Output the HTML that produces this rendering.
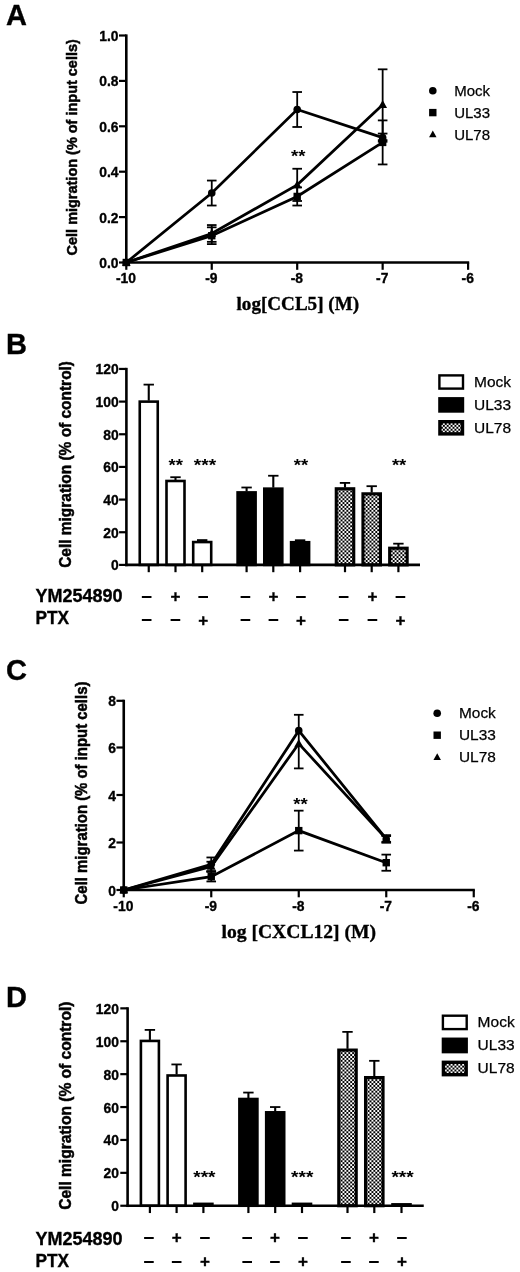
<!DOCTYPE html>
<html lang="en"><head><meta charset="utf-8"><title>Figure</title>
<style>html,body{margin:0;padding:0;background:#fff}svg{display:block}</style>
</head><body>
<svg width="520" height="1272" viewBox="0 0 520 1272">
<defs><pattern id="chk" x="0.9" y="0.3" width="3.86" height="3.86" patternUnits="userSpaceOnUse"><rect width="3.86" height="3.86" fill="#000"/><rect x="0" y="0" width="1.93" height="1.93" fill="#fff"/><rect x="1.93" y="1.93" width="1.93" height="1.93" fill="#fff"/></pattern></defs>
<rect width="520" height="1272" fill="#fff"/>
<g style="filter:blur(0.45px)">
<g id="panelA">
<polyline points="126.3,262.5 211.75,193.04 297.2,109.5 382.65,137.65" fill="none" stroke="#000" stroke-width="2.75" stroke-linejoin="miter"/>
<polyline points="126.3,262.5 211.75,235.71 297.2,196.44 382.65,142.42" fill="none" stroke="#000" stroke-width="2.75" stroke-linejoin="miter"/>
<polyline points="126.3,262.5 211.75,233.44 297.2,184.87 382.65,104.74" fill="none" stroke="#000" stroke-width="2.75" stroke-linejoin="miter"/>
<line x1="211.75" y1="180.55" x2="211.75" y2="205.52" stroke="#000" stroke-width="1.8"/>
<line x1="206.95" y1="180.55" x2="216.55" y2="180.55" stroke="#000" stroke-width="1.8"/>
<line x1="206.95" y1="205.52" x2="216.55" y2="205.52" stroke="#000" stroke-width="1.8"/>
<line x1="297.2" y1="92.02" x2="297.2" y2="126.98" stroke="#000" stroke-width="1.8"/>
<line x1="292.4" y1="92.02" x2="302" y2="92.02" stroke="#000" stroke-width="1.8"/>
<line x1="292.4" y1="126.98" x2="302" y2="126.98" stroke="#000" stroke-width="1.8"/>
<line x1="382.65" y1="133.56" x2="382.65" y2="141.74" stroke="#000" stroke-width="1.8"/>
<line x1="377.85" y1="133.56" x2="387.45" y2="133.56" stroke="#000" stroke-width="1.8"/>
<line x1="377.85" y1="141.74" x2="387.45" y2="141.74" stroke="#000" stroke-width="1.8"/>
<line x1="211.75" y1="227.31" x2="211.75" y2="244.11" stroke="#000" stroke-width="1.8"/>
<line x1="206.95" y1="227.31" x2="216.55" y2="227.31" stroke="#000" stroke-width="1.8"/>
<line x1="206.95" y1="244.11" x2="216.55" y2="244.11" stroke="#000" stroke-width="1.8"/>
<line x1="297.2" y1="187.36" x2="297.2" y2="205.52" stroke="#000" stroke-width="1.8"/>
<line x1="292.4" y1="187.36" x2="302" y2="187.36" stroke="#000" stroke-width="1.8"/>
<line x1="292.4" y1="205.52" x2="302" y2="205.52" stroke="#000" stroke-width="1.8"/>
<line x1="382.65" y1="120.4" x2="382.65" y2="164.44" stroke="#000" stroke-width="1.8"/>
<line x1="377.85" y1="120.4" x2="387.45" y2="120.4" stroke="#000" stroke-width="1.8"/>
<line x1="377.85" y1="164.44" x2="387.45" y2="164.44" stroke="#000" stroke-width="1.8"/>
<line x1="211.75" y1="225.05" x2="211.75" y2="241.84" stroke="#000" stroke-width="1.8"/>
<line x1="206.95" y1="225.05" x2="216.55" y2="225.05" stroke="#000" stroke-width="1.8"/>
<line x1="206.95" y1="241.84" x2="216.55" y2="241.84" stroke="#000" stroke-width="1.8"/>
<line x1="297.2" y1="168.75" x2="297.2" y2="200.98" stroke="#000" stroke-width="1.8"/>
<line x1="292.4" y1="168.75" x2="302" y2="168.75" stroke="#000" stroke-width="1.8"/>
<line x1="292.4" y1="200.98" x2="302" y2="200.98" stroke="#000" stroke-width="1.8"/>
<line x1="382.65" y1="69.32" x2="382.65" y2="140.15" stroke="#000" stroke-width="1.8"/>
<line x1="377.85" y1="69.32" x2="387.45" y2="69.32" stroke="#000" stroke-width="1.8"/>
<line x1="377.85" y1="140.15" x2="387.45" y2="140.15" stroke="#000" stroke-width="1.8"/>
<circle cx="126.3" cy="262.5" r="3.8" fill="#000"/>
<circle cx="211.75" cy="193.04" r="3.8" fill="#000"/>
<circle cx="297.2" cy="109.5" r="3.8" fill="#000"/>
<circle cx="382.65" cy="137.65" r="3.8" fill="#000"/>
<rect x="122.6" y="258.8" width="7.4" height="7.4" fill="#000"/>
<rect x="208.05" y="232.01" width="7.4" height="7.4" fill="#000"/>
<rect x="293.5" y="192.74" width="7.4" height="7.4" fill="#000"/>
<rect x="378.95" y="138.72" width="7.4" height="7.4" fill="#000"/>
<polygon points="126.3,257.88 121.9,265.8 130.7,265.8" fill="#000"/>
<polygon points="211.75,228.82 207.35,236.74 216.15,236.74" fill="#000"/>
<polygon points="297.2,180.25 292.8,188.17 301.6,188.17" fill="#000"/>
<polygon points="382.65,100.12 378.25,108.04 387.05,108.04" fill="#000"/>
<line x1="126.3" y1="34.4" x2="126.3" y2="263.8" stroke="#000" stroke-width="2.6"/>
<line x1="125" y1="262.5" x2="469.2" y2="262.5" stroke="#000" stroke-width="2.6"/>
<line x1="119" y1="262.5" x2="126.3" y2="262.5" stroke="#000" stroke-width="2.2"/>
<text x="118.6" y="268" font-family='"Liberation Sans", Arial, Helvetica, sans-serif' font-size="14.6" font-weight="bold" text-anchor="end" textLength="19.28" lengthAdjust="spacingAndGlyphs" stroke="#000" stroke-width="0.35">0.0</text>
<line x1="119" y1="217.1" x2="126.3" y2="217.1" stroke="#000" stroke-width="2.2"/>
<text x="118.6" y="222.6" font-family='"Liberation Sans", Arial, Helvetica, sans-serif' font-size="14.6" font-weight="bold" text-anchor="end" textLength="19.28" lengthAdjust="spacingAndGlyphs" stroke="#000" stroke-width="0.35">0.2</text>
<line x1="119" y1="171.7" x2="126.3" y2="171.7" stroke="#000" stroke-width="2.2"/>
<text x="118.6" y="177.2" font-family='"Liberation Sans", Arial, Helvetica, sans-serif' font-size="14.6" font-weight="bold" text-anchor="end" textLength="19.28" lengthAdjust="spacingAndGlyphs" stroke="#000" stroke-width="0.35">0.4</text>
<line x1="119" y1="126.3" x2="126.3" y2="126.3" stroke="#000" stroke-width="2.2"/>
<text x="118.6" y="131.8" font-family='"Liberation Sans", Arial, Helvetica, sans-serif' font-size="14.6" font-weight="bold" text-anchor="end" textLength="19.28" lengthAdjust="spacingAndGlyphs" stroke="#000" stroke-width="0.35">0.6</text>
<line x1="119" y1="80.9" x2="126.3" y2="80.9" stroke="#000" stroke-width="2.2"/>
<text x="118.6" y="86.4" font-family='"Liberation Sans", Arial, Helvetica, sans-serif' font-size="14.6" font-weight="bold" text-anchor="end" textLength="19.28" lengthAdjust="spacingAndGlyphs" stroke="#000" stroke-width="0.35">0.8</text>
<line x1="119" y1="35.5" x2="126.3" y2="35.5" stroke="#000" stroke-width="2.2"/>
<text x="118.6" y="41" font-family='"Liberation Sans", Arial, Helvetica, sans-serif' font-size="14.6" font-weight="bold" text-anchor="end" textLength="19.28" lengthAdjust="spacingAndGlyphs" stroke="#000" stroke-width="0.35">1.0</text>
<line x1="126.3" y1="262.5" x2="126.3" y2="269.8" stroke="#000" stroke-width="2.2"/>
<text x="125.9" y="283.2" font-family='"Liberation Sans", Arial, Helvetica, sans-serif' font-size="14.6" font-weight="bold" text-anchor="middle" textLength="20.05" lengthAdjust="spacingAndGlyphs" stroke="#000" stroke-width="0.35">-10</text>
<line x1="211.75" y1="262.5" x2="211.75" y2="269.8" stroke="#000" stroke-width="2.2"/>
<text x="211.35" y="283.2" font-family='"Liberation Sans", Arial, Helvetica, sans-serif' font-size="14.6" font-weight="bold" text-anchor="middle" textLength="12.33" lengthAdjust="spacingAndGlyphs" stroke="#000" stroke-width="0.35">-9</text>
<line x1="297.2" y1="262.5" x2="297.2" y2="269.8" stroke="#000" stroke-width="2.2"/>
<text x="296.8" y="283.2" font-family='"Liberation Sans", Arial, Helvetica, sans-serif' font-size="14.6" font-weight="bold" text-anchor="middle" textLength="12.33" lengthAdjust="spacingAndGlyphs" stroke="#000" stroke-width="0.35">-8</text>
<line x1="382.65" y1="262.5" x2="382.65" y2="269.8" stroke="#000" stroke-width="2.2"/>
<text x="382.25" y="283.2" font-family='"Liberation Sans", Arial, Helvetica, sans-serif' font-size="14.6" font-weight="bold" text-anchor="middle" textLength="12.33" lengthAdjust="spacingAndGlyphs" stroke="#000" stroke-width="0.35">-7</text>
<line x1="468.1" y1="262.5" x2="468.1" y2="269.8" stroke="#000" stroke-width="2.2"/>
<text x="467.7" y="283.2" font-family='"Liberation Sans", Arial, Helvetica, sans-serif' font-size="14.6" font-weight="bold" text-anchor="middle" textLength="12.33" lengthAdjust="spacingAndGlyphs" stroke="#000" stroke-width="0.35">-6</text>
<text transform="translate(77.2 147.3) rotate(-90)" font-family='"Liberation Sans", Arial, Helvetica, sans-serif' font-size="15.3" font-weight="bold" text-anchor="middle" stroke="#000" stroke-width="0.5" textLength="216.2" lengthAdjust="spacingAndGlyphs">Cell migration (% of input cells)</text>
<text x="297.8" y="310.2" font-family='"Liberation Serif", "Times New Roman", Times, serif' font-size="19" font-weight="bold" text-anchor="middle" textLength="122.5" lengthAdjust="spacingAndGlyphs" stroke="#000" stroke-width="0.35">log[CCL5] (M)</text>
<text x="298.3" y="161.8" font-family='"Liberation Sans", Arial, Helvetica, sans-serif' font-size="16" font-weight="bold" text-anchor="middle" textLength="14.4" lengthAdjust="spacingAndGlyphs">**</text>
<circle cx="432.8" cy="90.8" r="3.8" fill="#000"/>
<text x="454.2" y="96.2" font-family='"Liberation Sans", Arial, Helvetica, sans-serif' font-size="15" font-weight="normal" text-anchor="start" stroke="#000" stroke-width="0.25">Mock</text>
<rect x="429.1" y="108.9" width="7.4" height="7.4" fill="#000"/>
<text x="454.2" y="118" font-family='"Liberation Sans", Arial, Helvetica, sans-serif' font-size="15" font-weight="normal" text-anchor="start" stroke="#000" stroke-width="0.25">UL33</text>
<polygon points="432.8,130.47 429.06,137.21 436.54,137.21" fill="#000"/>
<text x="454.2" y="139.8" font-family='"Liberation Sans", Arial, Helvetica, sans-serif' font-size="15" font-weight="normal" text-anchor="start" stroke="#000" stroke-width="0.25">UL78</text>
<text x="6" y="25.2" font-family='"Liberation Sans", Arial, Helvetica, sans-serif' font-size="29" font-weight="bold" text-anchor="start" stroke="#000" stroke-width="0.35">A</text>
</g>
<g id="panelB">
<line x1="148.75" y1="384.62" x2="148.75" y2="400.62" stroke="#000" stroke-width="2.1"/>
<line x1="143.55" y1="384.62" x2="153.95" y2="384.62" stroke="#000" stroke-width="1.8"/>
<rect x="139.75" y="401.62" width="18" height="163.28" fill="#fff" stroke="#000" stroke-width="2.6"/>
<line x1="175.5" y1="477.21" x2="175.5" y2="479.98" stroke="#000" stroke-width="2.1"/>
<line x1="170.3" y1="477.21" x2="180.7" y2="477.21" stroke="#000" stroke-width="1.8"/>
<rect x="166.5" y="480.98" width="18" height="83.92" fill="#fff" stroke="#000" stroke-width="2.6"/>
<line x1="202.2" y1="540.08" x2="202.2" y2="541.06" stroke="#000" stroke-width="2.1"/>
<line x1="197" y1="540.08" x2="207.4" y2="540.08" stroke="#000" stroke-width="1.8"/>
<rect x="193.2" y="542.06" width="18" height="22.84" fill="#fff" stroke="#000" stroke-width="2.6"/>
<line x1="246.6" y1="487.5" x2="246.6" y2="491.41" stroke="#000" stroke-width="2.1"/>
<line x1="241.4" y1="487.5" x2="251.8" y2="487.5" stroke="#000" stroke-width="1.8"/>
<rect x="237.6" y="492.41" width="18" height="72.49" fill="#000" stroke="#000" stroke-width="2.6"/>
<line x1="273.3" y1="475.74" x2="273.3" y2="487.66" stroke="#000" stroke-width="2.1"/>
<line x1="268.1" y1="475.74" x2="278.5" y2="475.74" stroke="#000" stroke-width="1.8"/>
<rect x="264.3" y="488.66" width="18" height="76.24" fill="#000" stroke="#000" stroke-width="2.6"/>
<line x1="300.1" y1="540.24" x2="300.1" y2="541.22" stroke="#000" stroke-width="2.1"/>
<line x1="294.9" y1="540.24" x2="305.3" y2="540.24" stroke="#000" stroke-width="1.8"/>
<rect x="291.1" y="542.22" width="18" height="22.68" fill="#000" stroke="#000" stroke-width="2.6"/>
<line x1="345" y1="482.92" x2="345" y2="487.5" stroke="#000" stroke-width="2.1"/>
<line x1="339.8" y1="482.92" x2="350.2" y2="482.92" stroke="#000" stroke-width="1.8"/>
<rect x="336.25" y="488.75" width="17.5" height="76.15" fill="url(#chk)" stroke="#000" stroke-width="3.1"/>
<line x1="371.7" y1="486.19" x2="371.7" y2="492.56" stroke="#000" stroke-width="2.1"/>
<line x1="366.5" y1="486.19" x2="376.9" y2="486.19" stroke="#000" stroke-width="1.8"/>
<rect x="362.95" y="493.81" width="17.5" height="71.09" fill="url(#chk)" stroke="#000" stroke-width="3.1"/>
<line x1="398.4" y1="543.67" x2="398.4" y2="546.94" stroke="#000" stroke-width="2.1"/>
<line x1="393.2" y1="543.67" x2="403.6" y2="543.67" stroke="#000" stroke-width="1.8"/>
<rect x="389.65" y="548.19" width="17.5" height="16.71" fill="url(#chk)" stroke="#000" stroke-width="3.1"/>
<line x1="126.4" y1="367.84" x2="126.4" y2="566.2" stroke="#000" stroke-width="2.6"/>
<line x1="125.1" y1="564.9" x2="420" y2="564.9" stroke="#000" stroke-width="2.6"/>
<line x1="119.1" y1="564.9" x2="126.4" y2="564.9" stroke="#000" stroke-width="2.2"/>
<text x="118.7" y="570.4" font-family='"Liberation Sans", Arial, Helvetica, sans-serif' font-size="14.6" font-weight="bold" text-anchor="end" textLength="7.71" lengthAdjust="spacingAndGlyphs" stroke="#000" stroke-width="0.35">0</text>
<line x1="119.1" y1="532.24" x2="126.4" y2="532.24" stroke="#000" stroke-width="2.2"/>
<text x="118.7" y="537.74" font-family='"Liberation Sans", Arial, Helvetica, sans-serif' font-size="14.6" font-weight="bold" text-anchor="end" textLength="15.43" lengthAdjust="spacingAndGlyphs" stroke="#000" stroke-width="0.35">20</text>
<line x1="119.1" y1="499.58" x2="126.4" y2="499.58" stroke="#000" stroke-width="2.2"/>
<text x="118.7" y="505.08" font-family='"Liberation Sans", Arial, Helvetica, sans-serif' font-size="14.6" font-weight="bold" text-anchor="end" textLength="15.43" lengthAdjust="spacingAndGlyphs" stroke="#000" stroke-width="0.35">40</text>
<line x1="119.1" y1="466.92" x2="126.4" y2="466.92" stroke="#000" stroke-width="2.2"/>
<text x="118.7" y="472.42" font-family='"Liberation Sans", Arial, Helvetica, sans-serif' font-size="14.6" font-weight="bold" text-anchor="end" textLength="15.43" lengthAdjust="spacingAndGlyphs" stroke="#000" stroke-width="0.35">60</text>
<line x1="119.1" y1="434.26" x2="126.4" y2="434.26" stroke="#000" stroke-width="2.2"/>
<text x="118.7" y="439.76" font-family='"Liberation Sans", Arial, Helvetica, sans-serif' font-size="14.6" font-weight="bold" text-anchor="end" textLength="15.43" lengthAdjust="spacingAndGlyphs" stroke="#000" stroke-width="0.35">80</text>
<line x1="119.1" y1="401.6" x2="126.4" y2="401.6" stroke="#000" stroke-width="2.2"/>
<text x="118.7" y="407.1" font-family='"Liberation Sans", Arial, Helvetica, sans-serif' font-size="14.6" font-weight="bold" text-anchor="end" textLength="23.14" lengthAdjust="spacingAndGlyphs" stroke="#000" stroke-width="0.35">100</text>
<line x1="119.1" y1="368.94" x2="126.4" y2="368.94" stroke="#000" stroke-width="2.2"/>
<text x="118.7" y="374.44" font-family='"Liberation Sans", Arial, Helvetica, sans-serif' font-size="14.6" font-weight="bold" text-anchor="end" textLength="23.14" lengthAdjust="spacingAndGlyphs" stroke="#000" stroke-width="0.35">120</text>
<line x1="148.75" y1="564.9" x2="148.75" y2="572.2" stroke="#000" stroke-width="2.2"/>
<line x1="175.5" y1="564.9" x2="175.5" y2="572.2" stroke="#000" stroke-width="2.2"/>
<line x1="202.2" y1="564.9" x2="202.2" y2="572.2" stroke="#000" stroke-width="2.2"/>
<line x1="246.6" y1="564.9" x2="246.6" y2="572.2" stroke="#000" stroke-width="2.2"/>
<line x1="273.3" y1="564.9" x2="273.3" y2="572.2" stroke="#000" stroke-width="2.2"/>
<line x1="300.1" y1="564.9" x2="300.1" y2="572.2" stroke="#000" stroke-width="2.2"/>
<line x1="345" y1="564.9" x2="345" y2="572.2" stroke="#000" stroke-width="2.2"/>
<line x1="371.7" y1="564.9" x2="371.7" y2="572.2" stroke="#000" stroke-width="2.2"/>
<line x1="398.4" y1="564.9" x2="398.4" y2="572.2" stroke="#000" stroke-width="2.2"/>
<text transform="translate(70.9 464.4) rotate(-90)" font-family='"Liberation Sans", Arial, Helvetica, sans-serif' font-size="15.9" font-weight="bold" text-anchor="middle" stroke="#000" stroke-width="0.5" textLength="206.8" lengthAdjust="spacingAndGlyphs">Cell migration (% of control)</text>
<text x="175.8" y="470.8" font-family='"Liberation Sans", Arial, Helvetica, sans-serif' font-size="16" font-weight="bold" text-anchor="middle" textLength="14.4" lengthAdjust="spacingAndGlyphs">**</text>
<text x="205" y="470.8" font-family='"Liberation Sans", Arial, Helvetica, sans-serif' font-size="16" font-weight="bold" text-anchor="middle" textLength="22.3" lengthAdjust="spacingAndGlyphs">***</text>
<text x="300.9" y="470.8" font-family='"Liberation Sans", Arial, Helvetica, sans-serif' font-size="16" font-weight="bold" text-anchor="middle" textLength="14.4" lengthAdjust="spacingAndGlyphs">**</text>
<text x="399.1" y="470.8" font-family='"Liberation Sans", Arial, Helvetica, sans-serif' font-size="16" font-weight="bold" text-anchor="middle" textLength="14.4" lengthAdjust="spacingAndGlyphs">**</text>
<rect x="439.4" y="375.4" width="23.6" height="13.2" fill="#fff" stroke="#000" stroke-width="2.4"/>
<text x="474" y="387.4" font-family='"Liberation Sans", Arial, Helvetica, sans-serif' font-size="15.5" font-weight="normal" text-anchor="start" stroke="#000" stroke-width="0.25">Mock</text>
<rect x="439.4" y="398.3" width="23.6" height="13.2" fill="#000" stroke="#000" stroke-width="2.4"/>
<text x="474" y="410.3" font-family='"Liberation Sans", Arial, Helvetica, sans-serif' font-size="15.5" font-weight="normal" text-anchor="start" stroke="#000" stroke-width="0.25">UL33</text>
<rect x="439.9" y="421.7" width="22.6" height="12.2" fill="url(#chk)" stroke="#000" stroke-width="3.4"/>
<text x="474" y="433.2" font-family='"Liberation Sans", Arial, Helvetica, sans-serif' font-size="15.5" font-weight="normal" text-anchor="start" stroke="#000" stroke-width="0.25">UL78</text>
<text x="35.5" y="602" font-family='"Liberation Sans", Arial, Helvetica, sans-serif' font-size="17.6" font-weight="bold" text-anchor="start" textLength="87" lengthAdjust="spacingAndGlyphs" stroke="#000" stroke-width="0.35">YM254890</text>
<text x="35.5" y="624.2" font-family='"Liberation Sans", Arial, Helvetica, sans-serif' font-size="17.6" font-weight="bold" text-anchor="start" textLength="33.6" lengthAdjust="spacingAndGlyphs" stroke="#000" stroke-width="0.35">PTX</text>
<text x="146.7" y="601.9" font-family='"Liberation Sans", Arial, Helvetica, sans-serif' font-size="19.5" font-weight="bold" text-anchor="middle">–</text>
<text x="146.7" y="625.3" font-family='"Liberation Sans", Arial, Helvetica, sans-serif' font-size="19.5" font-weight="bold" text-anchor="middle">–</text>
<text x="175.4" y="601.8" font-family='"Liberation Sans", Arial, Helvetica, sans-serif' font-size="17" font-weight="bold" text-anchor="middle" stroke="#000" stroke-width="0.35">+</text>
<text x="175.4" y="625.3" font-family='"Liberation Sans", Arial, Helvetica, sans-serif' font-size="19.5" font-weight="bold" text-anchor="middle">–</text>
<text x="203.2" y="601.9" font-family='"Liberation Sans", Arial, Helvetica, sans-serif' font-size="19.5" font-weight="bold" text-anchor="middle">–</text>
<text x="203.2" y="626.2" font-family='"Liberation Sans", Arial, Helvetica, sans-serif' font-size="17" font-weight="bold" text-anchor="middle" stroke="#000" stroke-width="0.35">+</text>
<text x="245.4" y="601.9" font-family='"Liberation Sans", Arial, Helvetica, sans-serif' font-size="19.5" font-weight="bold" text-anchor="middle">–</text>
<text x="245.4" y="625.3" font-family='"Liberation Sans", Arial, Helvetica, sans-serif' font-size="19.5" font-weight="bold" text-anchor="middle">–</text>
<text x="273.5" y="601.8" font-family='"Liberation Sans", Arial, Helvetica, sans-serif' font-size="17" font-weight="bold" text-anchor="middle" stroke="#000" stroke-width="0.35">+</text>
<text x="273.5" y="625.3" font-family='"Liberation Sans", Arial, Helvetica, sans-serif' font-size="19.5" font-weight="bold" text-anchor="middle">–</text>
<text x="301" y="601.9" font-family='"Liberation Sans", Arial, Helvetica, sans-serif' font-size="19.5" font-weight="bold" text-anchor="middle">–</text>
<text x="301" y="626.2" font-family='"Liberation Sans", Arial, Helvetica, sans-serif' font-size="17" font-weight="bold" text-anchor="middle" stroke="#000" stroke-width="0.35">+</text>
<text x="343.7" y="601.9" font-family='"Liberation Sans", Arial, Helvetica, sans-serif' font-size="19.5" font-weight="bold" text-anchor="middle">–</text>
<text x="343.7" y="625.3" font-family='"Liberation Sans", Arial, Helvetica, sans-serif' font-size="19.5" font-weight="bold" text-anchor="middle">–</text>
<text x="372.5" y="601.8" font-family='"Liberation Sans", Arial, Helvetica, sans-serif' font-size="17" font-weight="bold" text-anchor="middle" stroke="#000" stroke-width="0.35">+</text>
<text x="372.5" y="625.3" font-family='"Liberation Sans", Arial, Helvetica, sans-serif' font-size="19.5" font-weight="bold" text-anchor="middle">–</text>
<text x="400.4" y="601.9" font-family='"Liberation Sans", Arial, Helvetica, sans-serif' font-size="19.5" font-weight="bold" text-anchor="middle">–</text>
<text x="400.4" y="626.2" font-family='"Liberation Sans", Arial, Helvetica, sans-serif' font-size="17" font-weight="bold" text-anchor="middle" stroke="#000" stroke-width="0.35">+</text>
<text x="6" y="354.4" font-family='"Liberation Sans", Arial, Helvetica, sans-serif' font-size="29" font-weight="bold" text-anchor="start" stroke="#000" stroke-width="0.35">B</text>
</g>
<g id="panelC">
<polyline points="123.75,890 211.25,864.35 298.75,730.64 386.25,838.94" fill="none" stroke="#000" stroke-width="2.75" stroke-linejoin="miter"/>
<polyline points="123.75,890 211.25,876.7 298.75,830.62 386.25,862.69" fill="none" stroke="#000" stroke-width="2.75" stroke-linejoin="miter"/>
<polyline points="123.75,890 211.25,866.49 298.75,743.61 386.25,838.94" fill="none" stroke="#000" stroke-width="2.75" stroke-linejoin="miter"/>
<line x1="211.25" y1="857.46" x2="211.25" y2="871.24" stroke="#000" stroke-width="1.8"/>
<line x1="206.45" y1="857.46" x2="216.05" y2="857.46" stroke="#000" stroke-width="1.8"/>
<line x1="206.45" y1="871.24" x2="216.05" y2="871.24" stroke="#000" stroke-width="1.8"/>
<line x1="386.25" y1="835.14" x2="386.25" y2="842.74" stroke="#000" stroke-width="1.8"/>
<line x1="381.45" y1="835.14" x2="391.05" y2="835.14" stroke="#000" stroke-width="1.8"/>
<line x1="381.45" y1="842.74" x2="391.05" y2="842.74" stroke="#000" stroke-width="1.8"/>
<line x1="211.25" y1="871.95" x2="211.25" y2="881.45" stroke="#000" stroke-width="1.8"/>
<line x1="206.45" y1="871.95" x2="216.05" y2="871.95" stroke="#000" stroke-width="1.8"/>
<line x1="206.45" y1="881.45" x2="216.05" y2="881.45" stroke="#000" stroke-width="1.8"/>
<line x1="298.75" y1="810.67" x2="298.75" y2="850.58" stroke="#000" stroke-width="1.8"/>
<line x1="293.95" y1="810.67" x2="303.55" y2="810.67" stroke="#000" stroke-width="1.8"/>
<line x1="293.95" y1="850.58" x2="303.55" y2="850.58" stroke="#000" stroke-width="1.8"/>
<line x1="386.25" y1="854.61" x2="386.25" y2="870.76" stroke="#000" stroke-width="1.8"/>
<line x1="381.45" y1="854.61" x2="391.05" y2="854.61" stroke="#000" stroke-width="1.8"/>
<line x1="381.45" y1="870.76" x2="391.05" y2="870.76" stroke="#000" stroke-width="1.8"/>
<line x1="211.25" y1="861.74" x2="211.25" y2="871.24" stroke="#000" stroke-width="1.8"/>
<line x1="206.45" y1="861.74" x2="216.05" y2="861.74" stroke="#000" stroke-width="1.8"/>
<line x1="206.45" y1="871.24" x2="216.05" y2="871.24" stroke="#000" stroke-width="1.8"/>
<line x1="298.75" y1="714.8" x2="298.75" y2="768.4" stroke="#000" stroke-width="1.8"/>
<line x1="293.95" y1="714.8" x2="303.55" y2="714.8" stroke="#000" stroke-width="1.8"/>
<line x1="293.95" y1="768.4" x2="303.55" y2="768.4" stroke="#000" stroke-width="1.8"/>
<line x1="386.25" y1="836.09" x2="386.25" y2="841.79" stroke="#000" stroke-width="1.8"/>
<line x1="381.45" y1="836.09" x2="391.05" y2="836.09" stroke="#000" stroke-width="1.8"/>
<line x1="381.45" y1="841.79" x2="391.05" y2="841.79" stroke="#000" stroke-width="1.8"/>
<circle cx="123.75" cy="890" r="3.8" fill="#000"/>
<circle cx="211.25" cy="864.35" r="3.8" fill="#000"/>
<circle cx="298.75" cy="730.64" r="3.8" fill="#000"/>
<circle cx="386.25" cy="838.94" r="3.8" fill="#000"/>
<rect x="120.05" y="886.3" width="7.4" height="7.4" fill="#000"/>
<rect x="207.55" y="873" width="7.4" height="7.4" fill="#000"/>
<rect x="295.05" y="826.92" width="7.4" height="7.4" fill="#000"/>
<rect x="382.55" y="858.99" width="7.4" height="7.4" fill="#000"/>
<polygon points="123.75,885.38 119.35,893.3 128.15,893.3" fill="#000"/>
<polygon points="211.25,861.87 206.85,869.79 215.65,869.79" fill="#000"/>
<polygon points="298.75,738.99 294.35,746.9 303.15,746.9" fill="#000"/>
<polygon points="386.25,834.32 381.85,842.24 390.65,842.24" fill="#000"/>
<line x1="123.75" y1="699.7" x2="123.75" y2="891.3" stroke="#000" stroke-width="2.6"/>
<line x1="122.45" y1="890" x2="474.85" y2="890" stroke="#000" stroke-width="2.6"/>
<line x1="116.45" y1="890" x2="123.75" y2="890" stroke="#000" stroke-width="2.2"/>
<text x="116.05" y="895.5" font-family='"Liberation Sans", Arial, Helvetica, sans-serif' font-size="14.6" font-weight="bold" text-anchor="end" textLength="7.71" lengthAdjust="spacingAndGlyphs" stroke="#000" stroke-width="0.35">0</text>
<line x1="116.45" y1="842.5" x2="123.75" y2="842.5" stroke="#000" stroke-width="2.2"/>
<text x="116.05" y="848" font-family='"Liberation Sans", Arial, Helvetica, sans-serif' font-size="14.6" font-weight="bold" text-anchor="end" textLength="7.71" lengthAdjust="spacingAndGlyphs" stroke="#000" stroke-width="0.35">2</text>
<line x1="116.45" y1="795" x2="123.75" y2="795" stroke="#000" stroke-width="2.2"/>
<text x="116.05" y="800.5" font-family='"Liberation Sans", Arial, Helvetica, sans-serif' font-size="14.6" font-weight="bold" text-anchor="end" textLength="7.71" lengthAdjust="spacingAndGlyphs" stroke="#000" stroke-width="0.35">4</text>
<line x1="116.45" y1="747.5" x2="123.75" y2="747.5" stroke="#000" stroke-width="2.2"/>
<text x="116.05" y="753" font-family='"Liberation Sans", Arial, Helvetica, sans-serif' font-size="14.6" font-weight="bold" text-anchor="end" textLength="7.71" lengthAdjust="spacingAndGlyphs" stroke="#000" stroke-width="0.35">6</text>
<line x1="116.45" y1="700.8" x2="123.75" y2="700.8" stroke="#000" stroke-width="2.2"/>
<text x="116.05" y="706.3" font-family='"Liberation Sans", Arial, Helvetica, sans-serif' font-size="14.6" font-weight="bold" text-anchor="end" textLength="7.71" lengthAdjust="spacingAndGlyphs" stroke="#000" stroke-width="0.35">8</text>
<line x1="123.75" y1="890" x2="123.75" y2="897.3" stroke="#000" stroke-width="2.2"/>
<text x="123.35" y="910.7" font-family='"Liberation Sans", Arial, Helvetica, sans-serif' font-size="14.6" font-weight="bold" text-anchor="middle" textLength="20.05" lengthAdjust="spacingAndGlyphs" stroke="#000" stroke-width="0.35">-10</text>
<line x1="211.25" y1="890" x2="211.25" y2="897.3" stroke="#000" stroke-width="2.2"/>
<text x="210.85" y="910.7" font-family='"Liberation Sans", Arial, Helvetica, sans-serif' font-size="14.6" font-weight="bold" text-anchor="middle" textLength="12.33" lengthAdjust="spacingAndGlyphs" stroke="#000" stroke-width="0.35">-9</text>
<line x1="298.75" y1="890" x2="298.75" y2="897.3" stroke="#000" stroke-width="2.2"/>
<text x="298.35" y="910.7" font-family='"Liberation Sans", Arial, Helvetica, sans-serif' font-size="14.6" font-weight="bold" text-anchor="middle" textLength="12.33" lengthAdjust="spacingAndGlyphs" stroke="#000" stroke-width="0.35">-8</text>
<line x1="386.25" y1="890" x2="386.25" y2="897.3" stroke="#000" stroke-width="2.2"/>
<text x="385.85" y="910.7" font-family='"Liberation Sans", Arial, Helvetica, sans-serif' font-size="14.6" font-weight="bold" text-anchor="middle" textLength="12.33" lengthAdjust="spacingAndGlyphs" stroke="#000" stroke-width="0.35">-7</text>
<line x1="473.75" y1="890" x2="473.75" y2="897.3" stroke="#000" stroke-width="2.2"/>
<text x="473.35" y="910.7" font-family='"Liberation Sans", Arial, Helvetica, sans-serif' font-size="14.6" font-weight="bold" text-anchor="middle" textLength="12.33" lengthAdjust="spacingAndGlyphs" stroke="#000" stroke-width="0.35">-6</text>
<text transform="translate(87 793) rotate(-90)" font-family='"Liberation Sans", Arial, Helvetica, sans-serif' font-size="15.9" font-weight="bold" text-anchor="middle" stroke="#000" stroke-width="0.5" textLength="222.8" lengthAdjust="spacingAndGlyphs">Cell migration (% of input cells)</text>
<text x="298.8" y="938.4" font-family='"Liberation Serif", "Times New Roman", Times, serif' font-size="19.5" font-weight="bold" text-anchor="middle" textLength="154.7" lengthAdjust="spacingAndGlyphs" stroke="#000" stroke-width="0.35">log [CXCL12] (M)</text>
<text x="300.5" y="809.5" font-family='"Liberation Sans", Arial, Helvetica, sans-serif' font-size="16" font-weight="bold" text-anchor="middle" textLength="14.4" lengthAdjust="spacingAndGlyphs">**</text>
<circle cx="437.2" cy="713.2" r="3.8" fill="#000"/>
<text x="459" y="718.3" font-family='"Liberation Sans", Arial, Helvetica, sans-serif' font-size="15.4" font-weight="normal" text-anchor="start" stroke="#000" stroke-width="0.25">Mock</text>
<rect x="433.5" y="731.5" width="7.4" height="7.4" fill="#000"/>
<text x="459" y="740.3" font-family='"Liberation Sans", Arial, Helvetica, sans-serif' font-size="15.4" font-weight="normal" text-anchor="start" stroke="#000" stroke-width="0.25">UL33</text>
<polygon points="437.2,753.27 433.46,760 440.94,760" fill="#000"/>
<text x="459" y="762.3" font-family='"Liberation Sans", Arial, Helvetica, sans-serif' font-size="15.4" font-weight="normal" text-anchor="start" stroke="#000" stroke-width="0.25">UL78</text>
<text x="6" y="680.2" font-family='"Liberation Sans", Arial, Helvetica, sans-serif' font-size="29" font-weight="bold" text-anchor="start" stroke="#000" stroke-width="0.35">C</text>
</g>
<g id="panelD">
<line x1="149.9" y1="1029.9" x2="149.9" y2="1039.93" stroke="#000" stroke-width="2.1"/>
<line x1="144.7" y1="1029.9" x2="155.1" y2="1029.9" stroke="#000" stroke-width="1.8"/>
<rect x="140.9" y="1040.93" width="18" height="164.82" fill="#fff" stroke="#000" stroke-width="2.6"/>
<line x1="176.6" y1="1064.44" x2="176.6" y2="1074.48" stroke="#000" stroke-width="2.1"/>
<line x1="171.4" y1="1064.44" x2="181.8" y2="1064.44" stroke="#000" stroke-width="1.8"/>
<rect x="167.6" y="1075.48" width="18" height="130.27" fill="#fff" stroke="#000" stroke-width="2.6"/>
<rect x="193.1" y="1202.58" width="20.6" height="3.17" fill="#000"/>
<line x1="248.4" y1="1092.57" x2="248.4" y2="1098" stroke="#000" stroke-width="2.1"/>
<line x1="243.2" y1="1092.57" x2="253.6" y2="1092.57" stroke="#000" stroke-width="1.8"/>
<rect x="239.4" y="1099" width="18" height="106.75" fill="#000" stroke="#000" stroke-width="2.6"/>
<line x1="275.2" y1="1107.05" x2="275.2" y2="1111.33" stroke="#000" stroke-width="2.1"/>
<line x1="270" y1="1107.05" x2="280.4" y2="1107.05" stroke="#000" stroke-width="1.8"/>
<rect x="266.2" y="1112.33" width="18" height="93.42" fill="#000" stroke="#000" stroke-width="2.6"/>
<rect x="291.7" y="1202.58" width="20.6" height="3.17" fill="#000"/>
<line x1="347.5" y1="1031.87" x2="347.5" y2="1048.82" stroke="#000" stroke-width="2.1"/>
<line x1="342.3" y1="1031.87" x2="352.7" y2="1031.87" stroke="#000" stroke-width="1.8"/>
<rect x="338.75" y="1050.07" width="17.5" height="155.68" fill="url(#chk)" stroke="#000" stroke-width="3.1"/>
<line x1="374.3" y1="1060.83" x2="374.3" y2="1076.29" stroke="#000" stroke-width="2.1"/>
<line x1="369.1" y1="1060.83" x2="379.5" y2="1060.83" stroke="#000" stroke-width="1.8"/>
<rect x="365.55" y="1077.54" width="17.5" height="128.21" fill="url(#chk)" stroke="#000" stroke-width="3.1"/>
<rect x="391.2" y="1203.07" width="20.6" height="2.68" fill="#000"/>
<line x1="127.6" y1="1007.25" x2="127.6" y2="1207.05" stroke="#000" stroke-width="2.6"/>
<line x1="126.3" y1="1205.75" x2="423.75" y2="1205.75" stroke="#000" stroke-width="2.6"/>
<line x1="120.3" y1="1205.75" x2="127.6" y2="1205.75" stroke="#000" stroke-width="2.2"/>
<text x="118.9" y="1211.25" font-family='"Liberation Sans", Arial, Helvetica, sans-serif' font-size="14.6" font-weight="bold" text-anchor="end" textLength="7.71" lengthAdjust="spacingAndGlyphs" stroke="#000" stroke-width="0.35">0</text>
<line x1="120.3" y1="1172.85" x2="127.6" y2="1172.85" stroke="#000" stroke-width="2.2"/>
<text x="118.9" y="1178.35" font-family='"Liberation Sans", Arial, Helvetica, sans-serif' font-size="14.6" font-weight="bold" text-anchor="end" textLength="15.43" lengthAdjust="spacingAndGlyphs" stroke="#000" stroke-width="0.35">20</text>
<line x1="120.3" y1="1139.95" x2="127.6" y2="1139.95" stroke="#000" stroke-width="2.2"/>
<text x="118.9" y="1145.45" font-family='"Liberation Sans", Arial, Helvetica, sans-serif' font-size="14.6" font-weight="bold" text-anchor="end" textLength="15.43" lengthAdjust="spacingAndGlyphs" stroke="#000" stroke-width="0.35">40</text>
<line x1="120.3" y1="1107.05" x2="127.6" y2="1107.05" stroke="#000" stroke-width="2.2"/>
<text x="118.9" y="1112.55" font-family='"Liberation Sans", Arial, Helvetica, sans-serif' font-size="14.6" font-weight="bold" text-anchor="end" textLength="15.43" lengthAdjust="spacingAndGlyphs" stroke="#000" stroke-width="0.35">60</text>
<line x1="120.3" y1="1074.15" x2="127.6" y2="1074.15" stroke="#000" stroke-width="2.2"/>
<text x="118.9" y="1079.65" font-family='"Liberation Sans", Arial, Helvetica, sans-serif' font-size="14.6" font-weight="bold" text-anchor="end" textLength="15.43" lengthAdjust="spacingAndGlyphs" stroke="#000" stroke-width="0.35">80</text>
<line x1="120.3" y1="1041.25" x2="127.6" y2="1041.25" stroke="#000" stroke-width="2.2"/>
<text x="118.9" y="1046.75" font-family='"Liberation Sans", Arial, Helvetica, sans-serif' font-size="14.6" font-weight="bold" text-anchor="end" textLength="23.14" lengthAdjust="spacingAndGlyphs" stroke="#000" stroke-width="0.35">100</text>
<line x1="120.3" y1="1008.35" x2="127.6" y2="1008.35" stroke="#000" stroke-width="2.2"/>
<text x="118.9" y="1013.85" font-family='"Liberation Sans", Arial, Helvetica, sans-serif' font-size="14.6" font-weight="bold" text-anchor="end" textLength="23.14" lengthAdjust="spacingAndGlyphs" stroke="#000" stroke-width="0.35">120</text>
<line x1="149.9" y1="1205.75" x2="149.9" y2="1213.05" stroke="#000" stroke-width="2.2"/>
<line x1="176.6" y1="1205.75" x2="176.6" y2="1213.05" stroke="#000" stroke-width="2.2"/>
<line x1="203.4" y1="1205.75" x2="203.4" y2="1213.05" stroke="#000" stroke-width="2.2"/>
<line x1="248.4" y1="1205.75" x2="248.4" y2="1213.05" stroke="#000" stroke-width="2.2"/>
<line x1="275.2" y1="1205.75" x2="275.2" y2="1213.05" stroke="#000" stroke-width="2.2"/>
<line x1="302" y1="1205.75" x2="302" y2="1213.05" stroke="#000" stroke-width="2.2"/>
<line x1="347.5" y1="1205.75" x2="347.5" y2="1213.05" stroke="#000" stroke-width="2.2"/>
<line x1="374.3" y1="1205.75" x2="374.3" y2="1213.05" stroke="#000" stroke-width="2.2"/>
<line x1="401.5" y1="1205.75" x2="401.5" y2="1213.05" stroke="#000" stroke-width="2.2"/>
<text transform="translate(70.9 1105.7) rotate(-90)" font-family='"Liberation Sans", Arial, Helvetica, sans-serif' font-size="15.9" font-weight="bold" text-anchor="middle" stroke="#000" stroke-width="0.5" textLength="208.2" lengthAdjust="spacingAndGlyphs">Cell migration (% of control)</text>
<text x="204.4" y="1183" font-family='"Liberation Sans", Arial, Helvetica, sans-serif' font-size="16" font-weight="bold" text-anchor="middle" textLength="22.3" lengthAdjust="spacingAndGlyphs">***</text>
<text x="302.2" y="1183" font-family='"Liberation Sans", Arial, Helvetica, sans-serif' font-size="16" font-weight="bold" text-anchor="middle" textLength="22.3" lengthAdjust="spacingAndGlyphs">***</text>
<text x="402.6" y="1183" font-family='"Liberation Sans", Arial, Helvetica, sans-serif' font-size="16" font-weight="bold" text-anchor="middle" textLength="22.3" lengthAdjust="spacingAndGlyphs">***</text>
<rect x="442.9" y="1015.7" width="23.8" height="13.4" fill="#fff" stroke="#000" stroke-width="2.4"/>
<text x="477.6" y="1027.3" font-family='"Liberation Sans", Arial, Helvetica, sans-serif' font-size="15.5" font-weight="normal" text-anchor="start" stroke="#000" stroke-width="0.25">Mock</text>
<rect x="442.9" y="1038.75" width="23.8" height="13.4" fill="#000" stroke="#000" stroke-width="2.4"/>
<text x="477.6" y="1050.35" font-family='"Liberation Sans", Arial, Helvetica, sans-serif' font-size="15.5" font-weight="normal" text-anchor="start" stroke="#000" stroke-width="0.25">UL33</text>
<rect x="443.4" y="1062.3" width="22.8" height="12.4" fill="url(#chk)" stroke="#000" stroke-width="3.4"/>
<text x="477.6" y="1073.4" font-family='"Liberation Sans", Arial, Helvetica, sans-serif' font-size="15.5" font-weight="normal" text-anchor="start" stroke="#000" stroke-width="0.25">UL78</text>
<text x="35.5" y="1244.5" font-family='"Liberation Sans", Arial, Helvetica, sans-serif' font-size="17.6" font-weight="bold" text-anchor="start" textLength="87" lengthAdjust="spacingAndGlyphs" stroke="#000" stroke-width="0.35">YM254890</text>
<text x="35.5" y="1267" font-family='"Liberation Sans", Arial, Helvetica, sans-serif' font-size="17.6" font-weight="bold" text-anchor="start" textLength="33.6" lengthAdjust="spacingAndGlyphs" stroke="#000" stroke-width="0.35">PTX</text>
<text x="149" y="1242.5" font-family='"Liberation Sans", Arial, Helvetica, sans-serif' font-size="19.5" font-weight="bold" text-anchor="middle">–</text>
<text x="149" y="1266.5" font-family='"Liberation Sans", Arial, Helvetica, sans-serif' font-size="19.5" font-weight="bold" text-anchor="middle">–</text>
<text x="176.6" y="1242.9" font-family='"Liberation Sans", Arial, Helvetica, sans-serif' font-size="17" font-weight="bold" text-anchor="middle" stroke="#000" stroke-width="0.35">+</text>
<text x="176.6" y="1266.5" font-family='"Liberation Sans", Arial, Helvetica, sans-serif' font-size="19.5" font-weight="bold" text-anchor="middle">–</text>
<text x="205" y="1242.5" font-family='"Liberation Sans", Arial, Helvetica, sans-serif' font-size="19.5" font-weight="bold" text-anchor="middle">–</text>
<text x="205" y="1267.4" font-family='"Liberation Sans", Arial, Helvetica, sans-serif' font-size="17" font-weight="bold" text-anchor="middle" stroke="#000" stroke-width="0.35">+</text>
<text x="247.1" y="1242.5" font-family='"Liberation Sans", Arial, Helvetica, sans-serif' font-size="19.5" font-weight="bold" text-anchor="middle">–</text>
<text x="247.1" y="1266.5" font-family='"Liberation Sans", Arial, Helvetica, sans-serif' font-size="19.5" font-weight="bold" text-anchor="middle">–</text>
<text x="275" y="1242.9" font-family='"Liberation Sans", Arial, Helvetica, sans-serif' font-size="17" font-weight="bold" text-anchor="middle" stroke="#000" stroke-width="0.35">+</text>
<text x="275" y="1266.5" font-family='"Liberation Sans", Arial, Helvetica, sans-serif' font-size="19.5" font-weight="bold" text-anchor="middle">–</text>
<text x="303" y="1242.5" font-family='"Liberation Sans", Arial, Helvetica, sans-serif' font-size="19.5" font-weight="bold" text-anchor="middle">–</text>
<text x="303" y="1267.4" font-family='"Liberation Sans", Arial, Helvetica, sans-serif' font-size="17" font-weight="bold" text-anchor="middle" stroke="#000" stroke-width="0.35">+</text>
<text x="346" y="1242.5" font-family='"Liberation Sans", Arial, Helvetica, sans-serif' font-size="19.5" font-weight="bold" text-anchor="middle">–</text>
<text x="346" y="1266.5" font-family='"Liberation Sans", Arial, Helvetica, sans-serif' font-size="19.5" font-weight="bold" text-anchor="middle">–</text>
<text x="374" y="1242.9" font-family='"Liberation Sans", Arial, Helvetica, sans-serif' font-size="17" font-weight="bold" text-anchor="middle" stroke="#000" stroke-width="0.35">+</text>
<text x="374" y="1266.5" font-family='"Liberation Sans", Arial, Helvetica, sans-serif' font-size="19.5" font-weight="bold" text-anchor="middle">–</text>
<text x="402" y="1242.5" font-family='"Liberation Sans", Arial, Helvetica, sans-serif' font-size="19.5" font-weight="bold" text-anchor="middle">–</text>
<text x="402" y="1267.4" font-family='"Liberation Sans", Arial, Helvetica, sans-serif' font-size="17" font-weight="bold" text-anchor="middle" stroke="#000" stroke-width="0.35">+</text>
<text x="6" y="1007.3" font-family='"Liberation Sans", Arial, Helvetica, sans-serif' font-size="29" font-weight="bold" text-anchor="start" stroke="#000" stroke-width="0.35">D</text>
</g>
</g>
</svg>
</body></html>
